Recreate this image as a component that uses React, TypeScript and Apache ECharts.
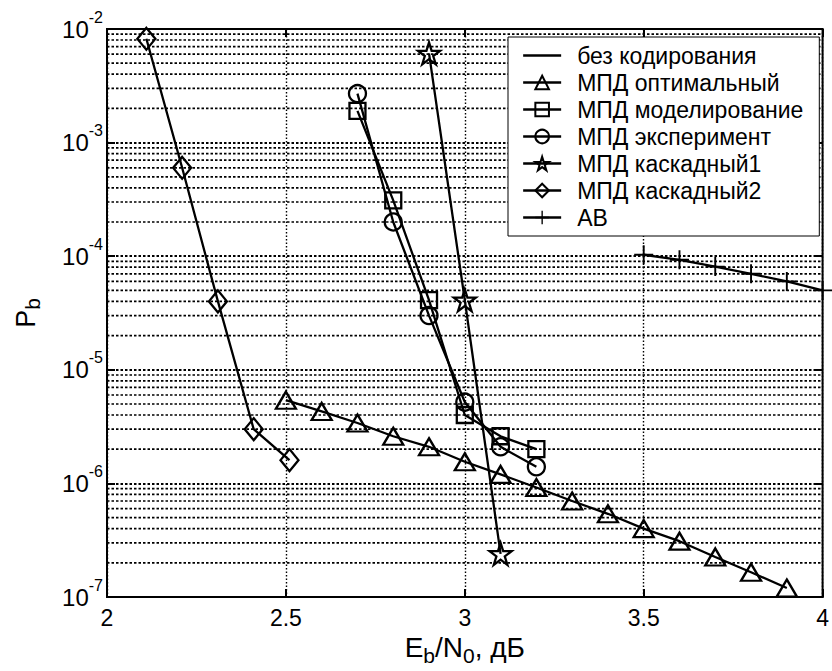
import React, { useEffect, useRef } from "react";
import * as echarts from "echarts";

// ---- data ----
const seriesNames = [
  "без кодирования",
  "МПД оптимальный",
  "МПД моделирование",
  "МПД эксперимент",
  "МПД каскадный1",
  "МПД каскадный2",
  "АВ",
];

const uncodedX: number[] = [];
const uncodedY: number[] = [];

const optX = [2.5, 2.6, 2.7, 2.8, 2.9, 3.0, 3.1, 3.2, 3.3, 3.4, 3.5, 3.6, 3.7, 3.8, 3.9];
const optY = [5.4e-6, 4.3e-6, 3.4e-6, 2.6e-6, 2.1e-6, 1.55e-6, 1.2e-6, 9.2e-7, 7.0e-7, 5.4e-7, 4.0e-7, 3.1e-7, 2.25e-7, 1.65e-7, 1.2e-7];

const simX = [2.7, 2.8, 2.9, 3.0, 3.1, 3.2];
const simY = [1.9e-3, 3.1e-4, 4.1e-5, 4.0e-6, 2.6e-6, 2.0e-6];

const expX = [2.7, 2.8, 2.9, 3.0, 3.1, 3.2];
const expY = [2.7e-3, 2.0e-4, 3.0e-5, 5.2e-6, 2.1e-6, 1.4e-6];

const casc1X = [2.9, 3.0, 3.1];
const casc1Y = [6.1e-3, 4.1e-5, 2.4e-7];

const casc2X = [2.11, 2.21, 2.31, 2.41, 2.51];
const casc2Y = [8.2e-3, 6.0e-4, 4.0e-5, 3.0e-6, 1.6e-6];

const abX = [3.5, 3.6, 3.7, 3.8, 3.9, 4.0];
const abY = [1.03e-4, 9.3e-5, 8.1e-5, 7.0e-5, 6.0e-5, 5.0e-5];

const xTicks = [2, 2.5, 3, 3.5, 4];
const yDecades = [-7, -6, -5, -4, -3, -2];
const minorMultipliers = [2, 3, 4, 5, 6, 7, 8, 9];

const FONT = "Liberation Sans";
const STAR =
  "path://M0,-100L22.45,-30.9L95.11,-30.9L36.33,11.8L58.78,80.9L0,38.2L-58.78,80.9L-36.33,11.8L-95.11,-30.9L-22.45,-30.9Z";
const PLUS =
  "path://M-1,-10L1,-10L1,-1L10,-1L10,1L1,1L1,10L-1,10L-1,1L-10,1L-10,-1L-1,-1Z";

function pairs(xs: number[], ys: number[]) {
  return xs.map((x, i) => [x, ys[i]]);
}

function mk(name: string, xs: number[], ys: number[], symbol: string, size: any, filled = false) {
  return {
    type: "line",
    name,
    data: pairs(xs, ys),
    symbol,
    symbolSize: size,
    showSymbol: true,
    showAllSymbol: true,
    color: "#000",
    lineStyle: { color: "#000", width: 2.3 },
    itemStyle: filled
      ? { color: "#000", borderWidth: 0 }
      : { color: "rgba(255,255,255,0)", borderColor: "#000", borderWidth: 2.3 },
    emphasis: { disabled: true },
    z: 5,
  };
}

export default function App() {
  const ref = useRef<HTMLDivElement>(null);
  useEffect(() => {
    if (!ref.current) return;
    const chart = echarts.init(ref.current, undefined, { renderer: "svg" });

    const minorLevels: number[] = [];
    for (let i = 0; i < yDecades.length - 1; i++) {
      for (const k of minorMultipliers) minorLevels.push(k * Math.pow(10, yDecades[i]));
    }

    const gridSeries = minorLevels.map((v, i) => ({
      type: "line",
      name: "_grid" + i,
      data: [
        [xTicks[0], v],
        [xTicks[xTicks.length - 1], v],
      ],
      symbol: "none",
      silent: true,
      lineStyle: { color: "#000", type: [2.5, 2], width: 1.7 },
      emphasis: { disabled: true },
      z: 1,
    }));

    const legendData = seriesNames.map((n, i) =>
      i === 0 ? { name: n, itemStyle: { opacity: 0 } } : { name: n }
    );

    const option: any = {
      animation: false,
      backgroundColor: "#fff",
      textStyle: { fontFamily: FONT, color: "#000" },
      grid: {
        left: 107,
        right: 5,
        top: 29,
        bottom: 74,
        show: true,
        borderColor: "#000",
        borderWidth: 2,
        backgroundColor: "transparent",
      },
      legend: {
        orient: "vertical",
        left: 508,
        top: 37,
        padding: [7, 16, 7, 14],
        backgroundColor: "#fff",
        borderColor: "#000",
        borderWidth: 1,
        itemWidth: 38,
        itemHeight: 17,
        itemGap: 4,
        selectedMode: false,
        data: legendData,
        lineStyle: { color: "#000", width: 2.3 },
        textStyle: {
          fontFamily: FONT,
          fontSize: 23,
          lineHeight: 22,
          color: "#000",
          padding: [0, 0, 0, 11],
        },
      },
      xAxis: [
        {
          type: "value",
          min: 2,
          max: 4,
          interval: 0.5,
          axisLine: { show: true, lineStyle: { color: "#000", width: 2 } },
          axisTick: { show: true, inside: true, length: 8, lineStyle: { color: "#000", width: 2 } },
          axisLabel: {
            fontFamily: FONT,
            fontSize: 23,
            color: "#000",
            margin: 9,
            showMinLabel: true,
            showMaxLabel: true,
            formatter: (v: number) => (xTicks.includes(v) ? String(v) : ""),
          },
          splitLine: { show: true, lineStyle: { color: "#000", type: [1.5, 2], width: 1.4 } },
          name: "{a|E}{sub|b}{a|/N}{sub|0}{a|, дБ}",
          nameLocation: "middle",
          nameGap: 32,
          nameTextStyle: {
            fontFamily: FONT,
            color: "#000",
            rich: {
              a: { fontFamily: FONT, fontSize: 28, lineHeight: 36, color: "#000" },
              sub: { fontFamily: FONT, fontSize: 21, lineHeight: 20, verticalAlign: "bottom", color: "#000" },
            },
          },
        },
        {
          type: "value",
          min: 2,
          max: 4,
          interval: 0.5,
          position: "top",
          axisLine: { show: false },
          axisTick: { show: true, inside: true, length: 8, lineStyle: { color: "#000", width: 2 } },
          axisLabel: { show: false },
          splitLine: { show: false },
        },
      ],
      yAxis: [
        {
          type: "log",
          logBase: 10,
          min: 1e-7,
          max: 1e-2,
          axisLine: { show: true, lineStyle: { color: "#000", width: 2 } },
          axisTick: { show: true, inside: true, length: 8, lineStyle: { color: "#000", width: 2 } },
          axisLabel: {
            margin: 4,
            showMinLabel: true,
            showMaxLabel: true,
            formatter: (v: number) => {
              const e = Math.round(Math.log10(v));
              return yDecades.includes(e) ? `{b|10}{s|${e}}` : "";
            },
            rich: {
              b: { fontFamily: FONT, fontSize: 24, lineHeight: 40, color: "#000" },
              s: { fontFamily: FONT, fontSize: 16, lineHeight: 16, verticalAlign: "top", color: "#000" },
            },
          },
          splitLine: { show: true, lineStyle: { color: "#000", type: [2.5, 2], width: 1.9 } },
          name: "{a|P}{sub|b}",
          nameLocation: "middle",
          nameRotate: 90,
          nameGap: 64,
          nameTextStyle: {
            fontFamily: FONT,
            color: "#000",
            rich: {
              a: { fontFamily: FONT, fontSize: 27, lineHeight: 34, color: "#000" },
              sub: { fontFamily: FONT, fontSize: 21, lineHeight: 20, verticalAlign: "bottom", color: "#000" },
            },
          },
        },
        {
          type: "log",
          logBase: 10,
          min: 1e-7,
          max: 1e-2,
          position: "right",
          axisLine: { show: false },
          axisTick: { show: true, inside: true, length: 8, lineStyle: { color: "#000", width: 2 } },
          axisLabel: { show: false },
          splitLine: { show: false },
        },
      ],
      series: [
        ...gridSeries,
        mk(seriesNames[0], uncodedX, uncodedY, "none", 0),
        mk(seriesNames[1], optX, optY, "triangle", [20, 17]),
        mk(seriesNames[2], simX, simY, "rect", 16),
        mk(seriesNames[3], expX, expY, "circle", 17),
        mk(seriesNames[4], casc1X, casc1Y, STAR, 22),
        mk(seriesNames[5], casc2X, casc2Y, "diamond", [18, 22]),
        mk(seriesNames[6], abX, abY, PLUS, 19, true),
      ],
    };

    chart.setOption(option);
    return () => chart.dispose();
  }, []);

  return (
    <div
      ref={ref}
      style={{ position: "fixed", left: 0, top: 0, width: 832, height: 671, background: "#fff" }}
    />
  );
}
